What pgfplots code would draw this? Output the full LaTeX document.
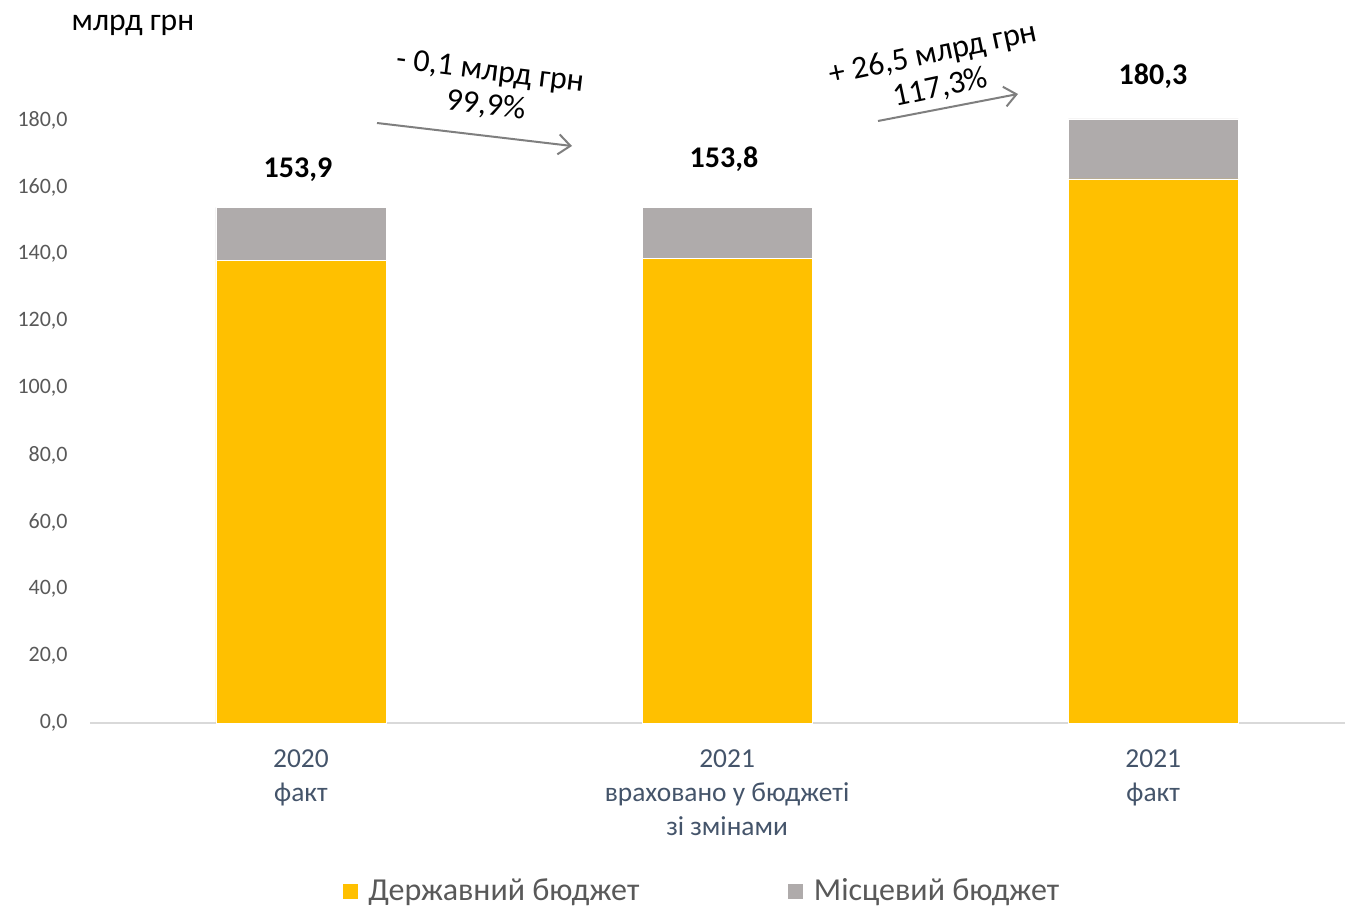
\documentclass[border=0pt]{standalone}
\usepackage{pgfplots}
\pgfplotsset{compat=1.18}
\usepackage{fontspec}
\setmainfont{Carlito}
\usetikzlibrary{arrows.meta}
\definecolor{cYel}{HTML}{FFC000}
\definecolor{cGry}{HTML}{AFABAB}
\definecolor{cTick}{HTML}{595959}
\definecolor{cX}{HTML}{44546A}
\definecolor{cArr}{HTML}{7F7F7F}
\definecolor{cLine}{HTML}{D9D9D9}
\begin{document}
\begin{tikzpicture}[x=0.5pt,y=0.5pt]
\path[use as bounding box] (0,0) rectangle (1347,906);
\begin{axis}[
  at={(45pt,91.5pt)}, anchor=south west,
  scale only axis, width=627.5pt, height=301.5pt,
  ybar stacked, bar width=85pt,
  xmin=-0.495, xmax=2.45, ymin=0, ymax=180,
  axis x line*=bottom, axis y line*=left,
  axis line style={-},
  x axis line style={draw=cLine, line width=1pt},
  y axis line style={draw=none},
  major tick length=0pt,
  clip=false,
  ytick={0,20,...,180},
  xtick={0,1,2},
  xticklabels={{2020\\факт},{2021\\враховано у бюджеті\\зі змінами},{2021\\факт}},
  x tick label style={align=center, text=cX, font=\fontsize{13.7}{17}\selectfont, inner sep=0pt, anchor=north, yshift=-13pt},
  y tick label style={text=cTick, font=\fontsize{11}{13}\selectfont, inner sep=0pt, anchor=east, xshift=-11pt},
  yticklabel style={/pgf/number format/.cd, fixed, fixed zerofill, precision=1, use comma},
  /pgf/number format/assume math mode=true,
  legend style={at={(0.488,-0.279)}, anchor=center, draw=none, fill=none,
    font=\fontsize{16}{18}\selectfont, text=cTick,
    /tikz/every odd column/.append style={column sep=3pt},
    /tikz/every even column/.append style={column sep=72pt}},
  legend columns=2,
  legend image code/.code={\fill[#1] (0pt,-4pt) rectangle (8pt,4pt);},
]
\addplot[fill=cYel, draw=white, line width=0.3pt] coordinates {(0,138.2) (1,138.8) (2,162.4)};
\addplot[fill=cGry, draw=white, line width=0.3pt] coordinates {(0,15.7) (1,15.0) (2,17.9)};
\legend{Державний бюджет, Місцевий бюджет}
\end{axis}
\node[font=\fontsize{15.8}{17}\selectfont] at (133,881) {млрд грн};
\node[font=\fontsize{15}{17}\selectfont\bfseries] at (298,736) {153,9};
\node[font=\fontsize{15}{17}\selectfont\bfseries] at (724,747) {153,8};
\node[font=\fontsize{15}{17}\selectfont\bfseries] at (1153,830) {180,3};
\draw[cArr, line width=1pt, -{Straight Barb[length=6pt,width=10pt]}] (377,783) -- (572,760);
\draw[cArr, line width=1pt, -{Straight Barb[length=6pt,width=10pt]}] (878,785) -- (1018,812);
\node[font=\fontsize{16}{17}\selectfont, rotate=-7, align=center, inner sep=0pt] at (488,817) {- 0,1 млрд грн\\99,9\%};
\node[font=\fontsize{16}{17.5}\selectfont, rotate=12, align=center, inner sep=0pt] at (937,835) {+ 26,5 млрд грн\\117,3\%};
\end{tikzpicture}
\end{document}
